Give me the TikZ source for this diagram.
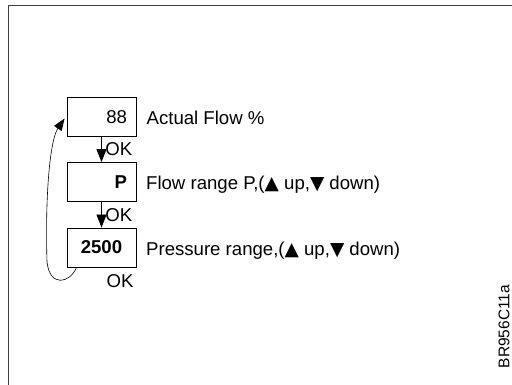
\documentclass[tikz,border=0pt]{standalone}
\usepackage{fontspec}
\setmainfont{Liberation Sans}
\newfontfamily\symfont{DejaVu Sans}
\newcommand{\uptri}{{\symfont ▲}}
\newcommand{\downtri}{{\symfont ▼}}
\usetikzlibrary{arrows.meta}

\tikzset{
  box/.style={draw, line width=0.9pt, minimum width=69pt, minimum height=39pt,
    inner xsep=9pt, inner ysep=0pt, text width=51pt, align=right},
  desc/.style={anchor=base west, inner sep=0pt},
  okarrow/.style={-{Triangle[length=13pt,width=10pt]}, line width=0.9pt},
  looparrow/.style={-{Triangle[length=12pt,width=9pt]}, line width=0.6pt},
}

\begin{document}
\begin{tikzpicture}[x=1pt, y=-1pt, font=\fontsize{18.6}{22}\selectfont]
  \useasboundingbox (0,0) rectangle (512,385);
  % Frame
  \draw[black!75, line width=0.9pt] (8,385) -- (8,5) -- (512,5);
  % Nodes
  \node[box] (flow) at (101.5,117) {88};
  \node[box] (range) at (101.5,182) {\textbf{P}};
  \node[box, align=center] (pressure) at (101.5,247.5) {\textbf{2500}};
  \node[desc] (flowtxt) at ([xshift=10pt,yshift=-7.5pt]flow.east) {Actual Flow \%};
  \node[desc] (rangetxt) at ([xshift=9.5pt,yshift=-7.5pt]range.east) {Flow range P,(\uptri\ up,\downtri\ down)};
  \node[desc] (pressuretxt) at ([xshift=9.5pt,yshift=-7.5pt]pressure.east) {Pressure range,(\uptri\ up,\downtri\ down)};
  \node (ok) at (120,281) {OK};
  \node[rotate=90, font=\fontsize{15.5}{18}\selectfont] (code) at (504,326.5) {BR956C11a};
  \coordinate (loopstart) at ([xshift=10pt]pressure.south west);
  \coordinate (loopend) at ([xshift=-2pt,yshift=-1.5pt]flow.west);
  % Edges
  \draw[okarrow] (flow) -- node[right] {OK} (range);
  \draw[okarrow] (range) -- node[right] {OK} (pressure);
  \draw[looparrow] (loopstart) .. controls (70,283) and (50,288) .. (47,262)
    .. controls (45,195) and (50,140) .. (loopend);
\end{tikzpicture}
\end{document}
